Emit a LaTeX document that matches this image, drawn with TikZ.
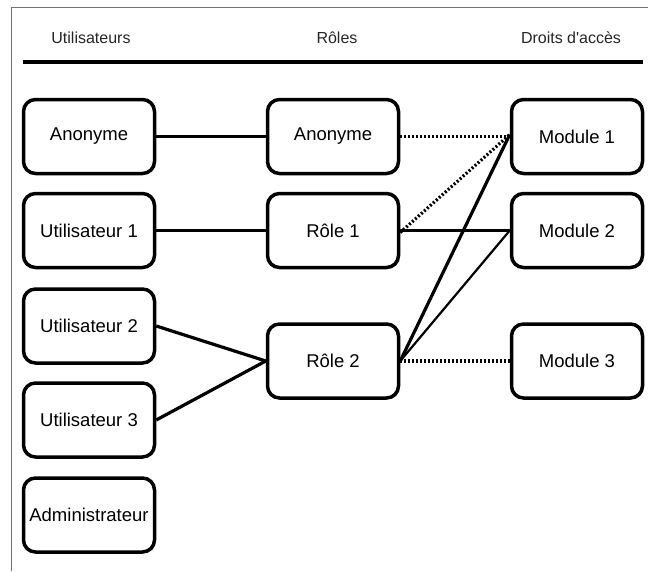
\documentclass[tikz,border=0pt]{standalone}
\usepackage{fontspec}
\setmainfont{Liberation Sans}
\begin{document}
\begin{tikzpicture}[x=1pt,y=-1pt,
  box/.style={draw, line width=3.5pt, rounded corners=12pt, minimum width=131pt, minimum height=74pt, inner sep=0pt, font=\fontsize{18.5}{21}\selectfont},
  head/.style={font=\fontsize{16}{18}\selectfont, text=black!85},
  link/.style={line width=3.2pt},
  thinlink/.style={line width=2.2pt},
  dotlink/.style={line width=3.2pt, dash pattern=on 2pt off 2pt}]
\useasboundingbox (0,0) rectangle (648,571);
\draw[black!55, line width=1pt] (11,571) -- (11,7) -- (648,7);
\node[head] (h1) at (91,38) {Utilisateurs};
\node[head] (h2) at (337,38) {Rôles};
\node[head] (h3) at (571,38) {Droits d\textquotesingle accès};
\coordinate (la) at (23,62);
\coordinate (lb) at (643,62);
\draw[line width=4pt] (la) -- (lb);
% users
\node[box] (u0) at (89,136.5) {Anonyme};
\node[box] (u1) at (89,230.5) {Utilisateur 1};
\node[box] (u2) at (89,326) {Utilisateur 2};
\node[box] (u3) at (89,420) {Utilisateur 3};
\node[box] (u4) at (89,515) {Administrateur};
% roles
\node[box] (r0) at (333,136.5) {Anonyme};
\node[box] (r1) at (333,230.5) {Rôle 1};
\node[box] (r2) at (333,361) {Rôle 2};
% modules
\node[box] (m1) at (577,136.5) {Module 1};
\node[box] (m2) at (577,230.5) {Module 2};
\node[box] (m3) at (577,361) {Module 3};
% connectors
\draw[link] (u0.east) -- (r0.west);
\draw[link] (u1.east) -- (r1.west);
\draw[link] (u2.east) -- (r2.west);
\draw[link] (u3.east) -- (r2.west);
\draw[dotlink] (r0.east) -- (m1.west);
\draw[dotlink] ([yshift=-2pt]r1.east) -- ([yshift=2pt]m1.west);
\draw[link] (r1.east) -- (m2.west);
\draw[link] (r2.east) -- ([yshift=2pt]m1.west);
\draw[thinlink] (r2.east) -- (m2.west);
\draw[dotlink] (r2.east) -- (m3.west);
\end{tikzpicture}
\end{document}
